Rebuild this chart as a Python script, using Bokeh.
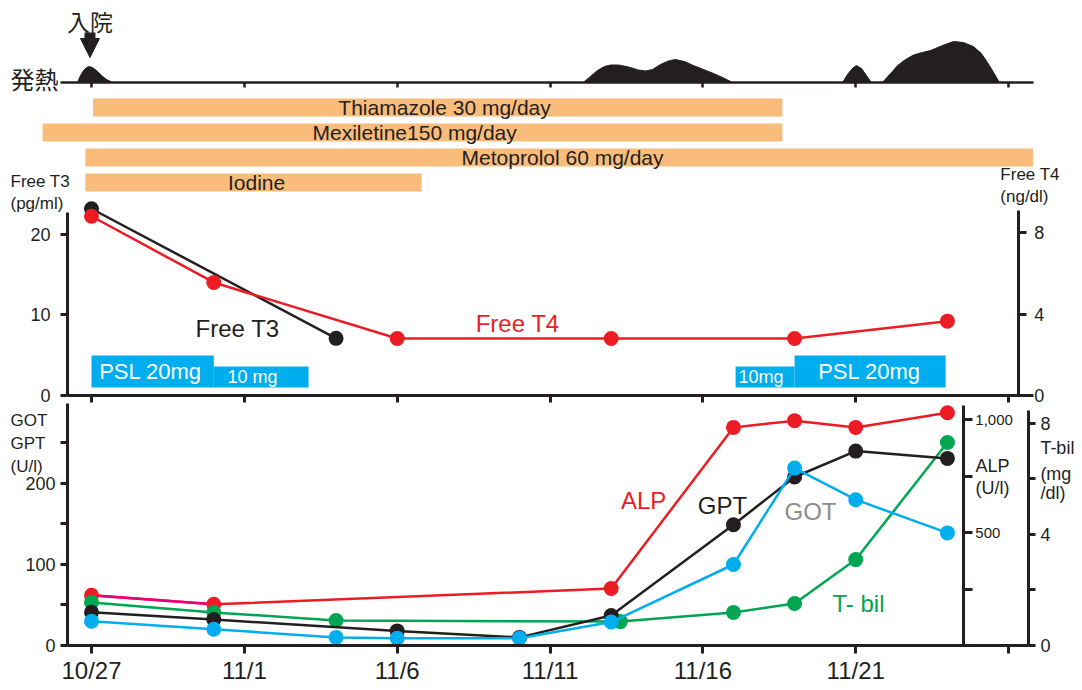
from bokeh.plotting import figure
from bokeh.models import (Range1d, LinearAxis, FixedTicker, Label, Arrow, NormalHead,
                          ColumnDataSource)
from bokeh.embed import file_html
from bokeh.resources import INLINE
from bokeh.core.properties import value

FONT = "Liberation Sans"
JFONT = "Noto Sans CJK JP"
INK = "#231f20"
RED = "#ed1c24"
MAGENTA = "#e6007e"
BLUE = "#00aeef"
GREEN = "#00a651"
ORANGE = "#f9bc7b"
GRAY = "#8c8c8c"

# ---------------- data (day 0 = 10/27) ----------------
tick_days = [0, 5, 10, 15, 20, 25, 30]
tick_labels = ["10/27", "11/1", "11/6", "11/11", "11/16", "11/21", ""]

admission_day = 0

fever_days = [
    [-0.46, -0.36, -0.26, -0.16, -0.07, 0.03, 0.16, 0.33, 0.49, 0.69],
    [16.09, 16.32, 16.55, 16.78, 16.98, 17.24, 17.57, 17.89, 18.12, 18.35,
     18.61, 18.87, 19.10, 19.40, 19.69, 20.02, 20.35, 20.68, 20.97],
    [24.57, 24.73, 24.89, 25.02, 25.19, 25.35, 25.51],
    [25.87, 26.14, 26.37, 26.63, 26.89, 27.18, 27.45, 27.84, 28.20, 28.52,
     28.85, 29.11, 29.31, 29.51, 29.70],
]
fever_levels = [
    [0, 7, 12, 15, 16, 15, 12, 7, 3, 0],
    [0, 6, 12, 16, 17.5, 17.5, 15.5, 12.5, 11.5, 13, 18, 21.5, 23, 21, 17, 13, 9, 4.5, 0],
    [0, 8, 14, 17, 14, 7, 0],
    [0, 9, 17, 23, 27.5, 30, 32, 37, 41, 40, 36, 29, 20, 10, 0],
]

drug_names = ["Thiamazole 30 mg/day", "Mexiletine150 mg/day", "Metoprolol 60 mg/day", "Iodine"]
drug_start = [0.05, -1.6, -0.2, -0.2]
drug_end = [22.6, 22.6, 30.8, 10.8]
drug_text_x = [11.55, 10.57, 15.41, 5.4]
drug_rows = [0, 1, 2, 3]

psl_start = [0, 4, 21.07, 23]
psl_end = [4, 7.1, 23, 27.94]
psl_dose = [20, 10, 10, 20]
psl_text = ["PSL 20mg", "10 mg", "10mg", "PSL 20mg"]
psl_text_x = [1.93, 5.27, 21.9, 25.45]

t3_days = [0, 8]
t3_vals = [23.2, 7.1]          # pg/ml
t4_days = [0, 4, 10, 17, 23, 28]
t4_vals = [8.8, 5.55, 2.8, 2.8, 2.8, 3.65]   # ng/dl

gpt_days = [0, 4, 10, 14, 17, 21, 23, 25, 28]
gpt_vals = [41, 32, 18, 10, 37, 149, 208, 240, 231]
got_days = [0, 4, 8, 10, 14, 17, 21, 23, 25, 28]
got_vals = [30, 20, 10, 9, 9, 29, 100, 219, 180, 139]
alp_days = [0, 4, 17, 21, 23, 25, 28]
alp_vals = [222, 182, 252, 965, 995, 965, 1030]
tbil_days = [0, 4, 8, 17.3, 21, 23, 25, 28]
tbil_vals = [1.55, 1.19, 0.90, 0.86, 1.19, 1.51, 3.09, 7.30]

# ---------------- helpers ----------------
def style_axis(ax, tick_out, standoff, size, width=3, tick_in=0):
    ax.axis_line_color = INK
    ax.axis_line_width = width
    ax.major_tick_line_color = INK
    ax.major_tick_line_width = width
    ax.major_tick_out = tick_out
    ax.major_tick_in = tick_in
    ax.minor_tick_line_color = None
    ax.major_label_text_font = FONT
    ax.major_label_text_font_size = size
    ax.major_label_text_color = INK
    ax.major_label_standoff = standoff


def add_label(p, x, y, text, size, color=INK, align="left", font=FONT, yr="default"):
    p.add_layout(Label(x=x, y=y, text=text, text_font=font, text_font_size=size,
                       text_color=color, text_align=align, text_baseline="middle",
                       y_range_name=yr))


# ---------------- single figure, one set of ranges per panel ----------------
p = figure(width=1082, height=690, min_border=0,
           x_range=Range1d(-2.977, 32.418), y_range=Range1d(-55.56, 796.3),   # GOT/GPT (U/l)
           x_axis_location=None, y_axis_location=None,
           toolbar_location=None, output_backend="svg")
p.grid.visible = False
p.outline_line_color = None
p.extra_y_ranges = {
    "alp": Range1d(-199.1, 2854.0),
    "tbil": Range1d(-1.619, 23.2),
    "t3": Range1d(-36.65, 49.07),
    "t4": Range1d(-14.48, 19.39),
    "drug": Range1d(23.32, -4.28),
    "fever": Range1d(-608, 82),
}

# ---- fever strip ----
p.patches(xs=fever_days, ys=fever_levels, y_range_name="fever",
          fill_color=INK, line_color=INK, line_width=1)
fever_axis = LinearAxis(y_range_name="fever", fixed_location=0, bounds=(-1.01, 30.8),
                        ticker=FixedTicker(ticks=tick_days))
style_axis(fever_axis, 5, 0, "10px", width=2.5)
fever_axis.major_label_text_color = None
p.add_layout(fever_axis, "below")

p.add_layout(Arrow(end=NormalHead(size=19, fill_color=INK, line_color=INK, line_width=1),
                   x_start=admission_day - 0.05, y_start=50, x_end=admission_day - 0.05, y_end=25,
                   line_width=11, line_color=INK, y_range_name="fever"))
add_label(p, admission_day - 0.05, 62, "入院", "23px", align="center", font=JFONT, yr="fever")
add_label(p, -1.08, 4, "発熱", "24px", align="right", font=JFONT, yr="fever")

# ---- drug bars ----
drug_src = ColumnDataSource(dict(y=drug_rows, left=drug_start, right=drug_end,
                                 tx=drug_text_x, name=drug_names))
p.hbar(y="y", left="left", right="right", height=0.72, source=drug_src,
       y_range_name="drug", fill_color=ORANGE, line_color=None)
p.text(x="tx", y="y", text="name", source=drug_src, y_range_name="drug",
       text_font=value(FONT), text_font_size="21px", text_color=INK,
       text_align="center", text_baseline="middle")

# ---- thyroid panel ----
psl_top = {20: 4.97, 10: 3.6}
psl_fs = {20: "22px", 10: "18px"}
psl_src = ColumnDataSource(dict(
    left=psl_start, right=psl_end,
    top=[psl_top[d] for d in psl_dose],
    cx=psl_text_x,
    cy=[(1.0 + psl_top[d]) / 2 for d in psl_dose],
    fs=[psl_fs[d] for d in psl_dose], text=psl_text))
p.quad(left="left", right="right", bottom=1.0, top="top", source=psl_src,
       y_range_name="t3", fill_color=BLUE, line_color=None)
p.text(x="cx", y="cy", text="text", source=psl_src, y_range_name="t3",
       text_font=value(FONT), text_font_size="fs", text_color="white",
       text_align="center", text_baseline="middle")

p.line(t3_days, t3_vals, y_range_name="t3", line_color=INK, line_width=2.5)
p.scatter(t3_days, t3_vals, y_range_name="t3", size=15, fill_color=INK, line_color=None)
p.line(t4_days, t4_vals, y_range_name="t4", line_color=RED, line_width=2.5)
p.scatter(t4_days, t4_vals, y_range_name="t4", size=15, fill_color=RED, line_color=None)

t3_axis = LinearAxis(y_range_name="t3", fixed_location=-0.785, bounds=(0, 22.7),
                     ticker=FixedTicker(ticks=[0, 10, 20]))
style_axis(t3_axis, 7, 10, "18px")
p.add_layout(t3_axis, "left")

t4_axis = LinearAxis(y_range_name="t4", fixed_location=30.32, bounds=(0, 9.08),
                     ticker=FixedTicker(ticks=[0, 4, 8]))
style_axis(t4_axis, 8, 8, "18px")
p.add_layout(t4_axis, "right")

x_top = LinearAxis(y_range_name="t3", fixed_location=0, bounds=(-0.785, 30.8),
                   ticker=FixedTicker(ticks=tick_days))
style_axis(x_top, 7, 0, "10px")
x_top.major_label_text_color = None
p.add_layout(x_top, "below")

add_label(p, -2.65, 26.58, "Free T3", "17px", yr="t3")
add_label(p, -2.65, 23.85, "(pg/ml)", "17px", yr="t3")
add_label(p, 29.73, 27.45, "Free T4", "17px", yr="t3")
add_label(p, 29.73, 24.72, "(ng/dl)", "17px", yr="t3")
add_label(p, 4.78, 8.32, "Free T3", "24px", align="center", yr="t3")
add_label(p, 13.94, 8.94, "Free T4", "24px", color=RED, align="center", yr="t3")

# ---- liver panel ----
p.line(alp_days, alp_vals, y_range_name="alp", line_color=RED, line_width=2.5)
p.line(alp_days[:2], alp_vals[:2], y_range_name="alp", line_color=MAGENTA, line_width=2.5)
p.scatter(alp_days, alp_vals, y_range_name="alp", size=15, fill_color=RED, line_color=None)

p.line(tbil_days, tbil_vals, y_range_name="tbil", line_color=GREEN, line_width=2.5)
p.scatter(tbil_days, tbil_vals, y_range_name="tbil", size=15, fill_color=GREEN, line_color=None)

p.line(gpt_days, gpt_vals, line_color=INK, line_width=2.5)
p.scatter(gpt_days, gpt_vals, size=15, fill_color=INK, line_color=None)

p.line(got_days, got_vals, line_color=BLUE, line_width=2.5)
p.scatter(got_days, got_vals, size=15, fill_color=BLUE, line_color=None)

got_axis = LinearAxis(fixed_location=-0.785, bounds=(0, 298.8),
                      ticker=FixedTicker(ticks=[0, 50, 100, 150, 200, 250]),
                      major_label_overrides={50: "", 150: "", 250: ""})
style_axis(got_axis, 7, 5, "18px")
p.add_layout(got_axis, "left")

alp_axis = LinearAxis(y_range_name="alp", fixed_location=28.52, bounds=(0, 1063),
                      ticker=FixedTicker(ticks=[0, 250, 500, 750, 1000]),
                      major_label_overrides={0: "", 250: "", 500: "500", 750: "", 1000: "1,000"})
style_axis(alp_axis, 9, 3, "15px")
p.add_layout(alp_axis, "right")

tbil_axis = LinearAxis(y_range_name="tbil", fixed_location=30.65, bounds=(0, 8.47),
                       ticker=FixedTicker(ticks=[0, 2, 4, 6, 8]),
                       major_label_overrides={2: "", 6: ""})
style_axis(tbil_axis, 7, 5, "18px")
p.add_layout(tbil_axis, "right")

x_bot = LinearAxis(fixed_location=0, bounds=(-0.785, 30.65),
                   ticker=FixedTicker(ticks=tick_days),
                   major_label_overrides=dict(zip(tick_days, tick_labels)))
style_axis(x_bot, 8, 4, "24px")
p.add_layout(x_bot, "below")

add_label(p, -2.65, 277.8, "GOT", "17px")
add_label(p, -2.65, 249.4, "GPT", "17px")
add_label(p, -2.65, 221.0, "(U/l)", "17px")
add_label(p, 28.92, 222.2, "ALP", "18px")
add_label(p, 28.92, 195.0, "(U/l)", "18px")
add_label(p, 31.04, 244.4, "T-bil", "18px")
add_label(p, 31.04, 212.3, "(mg", "18px")
add_label(p, 31.04, 187.7, "/dl)", "18px")

add_label(p, 18.06, 179, "ALP", "24px", color=RED, align="center")
add_label(p, 20.64, 173, "GPT", "24px", align="center")
add_label(p, 23.52, 165, "GOT", "24px", color=GRAY, align="center")
add_label(p, 25.09, 51.9, "T- bil", "24px", color=GREEN, align="center")

open("out.html", "w").write(file_html(p, INLINE))
